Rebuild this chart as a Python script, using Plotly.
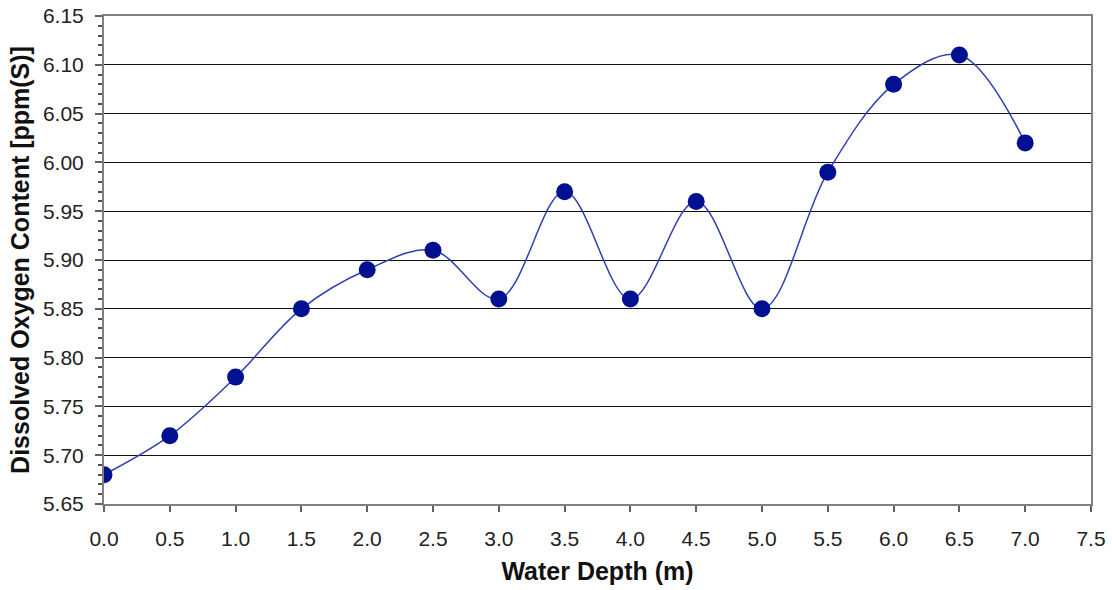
import plotly.graph_objects as go

depth = [0.0, 0.5, 1.0, 1.5, 2.0, 2.5, 3.0, 3.5, 4.0, 4.5, 5.0, 5.5, 6.0, 6.5, 7.0]
oxygen = [5.68, 5.72, 5.78, 5.85, 5.89, 5.91, 5.86, 5.97, 5.86, 5.96, 5.85, 5.99, 6.08, 6.11, 6.02]

x_ticks = [0.0, 0.5, 1.0, 1.5, 2.0, 2.5, 3.0, 3.5, 4.0, 4.5, 5.0, 5.5, 6.0, 6.5, 7.0, 7.5]
y_ticks = [5.65, 5.70, 5.75, 5.80, 5.85, 5.90, 5.95, 6.00, 6.05, 6.10, 6.15]

fig = go.Figure()
fig.add_trace(go.Scatter(
    x=depth, y=oxygen, mode="lines+markers",
    line=dict(color="#3040B0", width=1.5, shape="spline", smoothing=1.0),
    marker=dict(color="#001090", size=17, line=dict(width=0)),
    showlegend=False,
))

font = "Liberation Sans, Arial, Helvetica, sans-serif"
fig.update_layout(
    width=1112, height=590,
    margin=dict(l=104, r=21, t=16, b=86),
    paper_bgcolor="white", plot_bgcolor="white",
    font=dict(family=font, size=21, color="#222"),
    xaxis=dict(
        range=[0, 7.5], tickvals=x_ticks, ticktext=[f"{v:.1f}" for v in x_ticks],
        showgrid=False, zeroline=False, automargin=False,
        showline=True, linecolor="#808080", linewidth=2, mirror=True,
        ticks="outside", ticklen=6, tickwidth=1.5, tickcolor="#606060",
        tickfont=dict(size=21), ticklabelstandoff=9,
        title=dict(text="<b>Water Depth (m)</b>", font=dict(size=25, color="#111"), standoff=13),
    ),
    yaxis=dict(
        range=[5.65, 6.15], tickvals=y_ticks, ticktext=[f"{v:.2f}" for v in y_ticks],
        showgrid=True, gridcolor="#111", gridwidth=1.2, zeroline=False, automargin=False,
        showline=True, linecolor="#808080", linewidth=2, mirror=True,
        ticks="outside", ticklen=7, tickwidth=1.5, tickcolor="#606060",
        tickfont=dict(size=21), ticklabelstandoff=7,
        minor=dict(dtick=0.01, tick0=5.65, ticks="outside", ticklen=4, tickcolor="#505050", showgrid=False),
        title=dict(text="<b>Dissolved Oxygen Content [ppm(S)]</b>", font=dict(size=25, color="#111"), standoff=6),
    ),
)

fig.write_html("out.html", config={"displayModeBar": False},
               post_script="document.body.style.margin='0';document.body.style.padding='0';")
